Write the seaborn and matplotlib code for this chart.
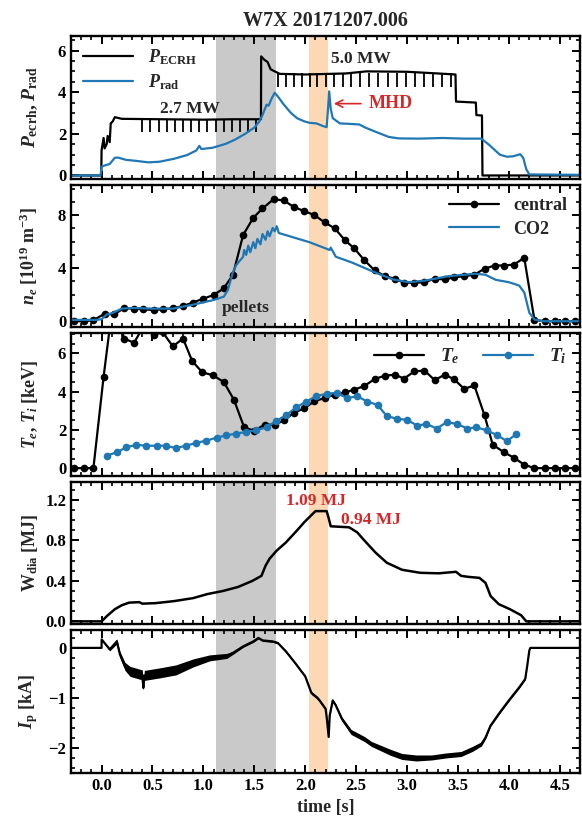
import numpy as np
import matplotlib
matplotlib.use("Agg")
import matplotlib.pyplot as plt
from matplotlib.ticker import MultipleLocator, FormatStrFormatter
import seaborn as sns

# ---- panel 1: heating and radiated power [MW]
ecrh_t = [-0.3, -0.003, 0.0, 0.02, 0.03, 0.05, 0.06, 0.08, 0.09, 0.11, 0.13, 0.2, 0.6, 1.0, 1.3,
          1.565, 1.567, 1.60, 1.63, 1.66, 1.70, 1.75, 2.0, 2.4, 2.6, 3.0, 3.3, 3.475, 3.48, 3.675,
          3.68, 3.735, 3.74, 4.7]
ecrh_v = [0, 0, 1.2, 1.8, 1.3, 1.5, 1.9, 1.6, 2.5, 2.6, 2.8, 2.72, 2.7, 2.68, 2.7,
          2.7, 5.72, 5.55, 5.45, 5.1, 5.0, 4.88, 4.85, 4.9, 5.0, 4.98, 4.9, 4.85, 3.55, 3.5,
          2.9, 2.88, 0.0, 0.0]
# short modulation dips of the ECRH trace
notch_lo_t = [0.40, 0.48, 0.56, 0.64, 0.72, 0.80, 0.88, 0.96, 1.04, 1.12, 1.20, 1.28, 1.36, 1.44, 1.52]
notch_lo_rng = [2.07, 2.7]
notch_hi_t = [1.73, 1.81, 1.89, 1.97, 2.05, 2.12, 2.20, 2.28, 2.37, 2.45, 2.54, 2.63, 2.71, 2.81,
              2.90, 2.99, 3.08, 3.17, 3.25, 3.34, 3.43]
notch_hi_rng = [4.25, 4.9]

prad_t = [-0.3, -0.01, 0.0, 0.03, 0.08, 0.13, 0.16, 0.24, 0.34, 0.46, 0.57, 0.71, 0.84, 0.93, 0.96,
          0.98, 1.09, 1.22, 1.31, 1.41, 1.50, 1.55, 1.58, 1.62, 1.64, 1.67, 1.70, 1.73, 1.79, 1.86,
          1.92, 1.99, 2.04, 2.11, 2.17, 2.21, 2.225, 2.235, 2.25, 2.27, 2.34, 2.43, 2.53, 2.59, 2.69,
          2.82, 2.92, 3.12, 3.35, 3.55, 3.73, 3.81, 3.91, 3.98, 4.04, 4.11, 4.14, 4.17, 4.20, 4.7]
prad_v = [0, 0, 0.42, 0.48, 0.55, 0.85, 0.86, 0.75, 0.7, 0.63, 0.66, 0.8, 0.98, 1.2, 1.42,
          1.27, 1.33, 1.52, 1.72, 2.0, 2.3, 2.6, 2.9, 3.4, 3.35, 3.7, 3.97, 3.8, 3.4, 3.0,
          2.75, 2.6, 2.53, 2.5, 2.38, 2.32, 3.3, 4.04, 3.2, 2.75, 2.5, 2.48, 2.45, 2.3, 2.1,
          1.85, 1.78, 1.77, 1.8, 1.77, 1.77, 1.45, 1.0, 0.9, 0.92, 1.02, 0.85, 0.3, 0.05, 0.03]

# ---- panel 2: density [1e19 m^-3]
ne_t = [-0.27, -0.17, -0.08, 0.03, 0.12, 0.22, 0.32, 0.41, 0.51, 0.60, 0.70, 0.80, 0.90, 1.00, 1.10,
        1.20, 1.29, 1.39, 1.49, 1.58, 1.69, 1.79, 1.89, 1.99, 2.09, 2.19, 2.29, 2.39, 2.48, 2.58,
        2.68, 2.78, 2.88, 2.97, 3.07, 3.17, 3.27, 3.37, 3.46, 3.56, 3.66, 3.76, 3.86, 3.95, 4.05,
        4.15, 4.25, 4.35, 4.45, 4.55, 4.65]
ne_v = [0, 0, 0.08, 0.56, 0.51, 0.97, 0.95, 0.9, 0.84, 0.9, 0.97, 1.15, 1.41, 1.71, 1.97,
        2.48, 3.5, 6.5, 7.8, 8.5, 9.2, 9.1, 8.6, 8.3, 8.0, 7.45, 7.0, 6.1, 5.5, 4.6,
        3.84, 3.4, 3.2, 2.9, 2.9, 2.94, 3.2, 3.15, 3.3, 3.4, 3.5, 3.96, 4.2, 4.2, 4.27,
        4.78, 0.1, 0, 0, 0, 0]
co2_t = [-0.3, -0.05, 0.0, 0.05, 0.1, 0.2, 0.3, 0.5, 0.7, 0.9, 1.1, 1.2, 1.24, 1.26, 1.29,
         1.32, 1.35, 1.39, 1.40, 1.42, 1.44, 1.46, 1.49, 1.51, 1.53, 1.56, 1.58, 1.61, 1.63, 1.65,
         1.68, 1.70, 1.72, 1.74, 2.04, 2.24, 2.25, 2.30, 2.46, 2.69, 2.86, 3.02, 3.18, 3.41, 3.67,
         3.77, 3.87, 4.00, 4.10, 4.15, 4.20, 4.25, 4.33, 4.7]
co2_v = [0.1, 0.1, 0.15, 0.5, 0.6, 0.95, 1.0, 0.95, 0.95, 1.25, 1.6, 1.85, 2.35, 2.9, 3.7,
         4.2, 4.5, 4.85, 5.37, 5.0, 5.7, 5.2, 5.96, 5.5, 6.2, 5.8, 6.57, 6.14, 6.78, 6.4,
         7.03, 6.78, 7.16, 6.65, 5.96, 5.37, 5.55, 4.86, 4.42, 3.66, 3.15, 2.94, 3.07, 3.4, 3.58,
         3.5, 3.12, 2.94, 2.69, 2.17, 0.64, 0.13, 0.0, 0.0]

# ---- panel 3: temperatures [keV]
te_t = [-0.27, -0.17, -0.08, 0.02, 0.12, 0.22, 0.32, 0.41, 0.51, 0.60, 0.70, 0.80, 0.89, 0.99, 1.09,
        1.20, 1.30, 1.40, 1.50, 1.60, 1.70, 1.79, 1.89, 1.99, 2.09, 2.19, 2.29, 2.39, 2.48, 2.58,
        2.68, 2.78, 2.88, 2.97, 3.07, 3.17, 3.27, 3.37, 3.46, 3.56, 3.66, 3.76, 3.84, 3.95, 4.05,
        4.15, 4.25, 4.35, 4.45, 4.55, 4.65]
te_v = [0, 0, 0, 4.77, 9.0, 6.77, 6.55, 7.4, 6.95, 7.1, 6.36, 6.77, 5.59, 5.0, 4.86,
        4.5, 3.57, 2.13, 1.95, 2.27, 2.27, 2.49, 2.9, 3.12, 3.5, 3.66, 3.84, 3.96, 4.1, 4.29,
        4.65, 4.83, 4.88, 4.68, 5.05, 5.1, 4.6, 4.88, 4.65, 4.14, 4.32, 2.76, 1.23, 0.83, 0.54,
        0.18, 0, 0, 0, 0, 0]
ti_t = [0.05, 0.15, 0.24, 0.34, 0.44, 0.54, 0.63, 0.73, 0.83, 0.93, 1.03, 1.13, 1.22, 1.32, 1.42,
        1.52, 1.62, 1.71, 1.81, 1.91, 2.01, 2.11, 2.21, 2.31, 2.41, 2.51, 2.61, 2.71, 2.80, 2.90,
        3.00, 3.10, 3.19, 3.29, 3.39, 3.49, 3.59, 3.68, 3.78, 3.88, 3.98, 4.07]
ti_v = [0.65, 0.83, 1.08, 1.22, 1.17, 1.17, 1.17, 1.05, 1.17, 1.32, 1.44, 1.59, 1.71, 1.8, 1.89,
        1.98, 2.13, 2.45, 2.76, 3.17, 3.48, 3.76, 3.89, 3.93, 3.66, 3.75, 3.48, 3.3, 2.72, 2.58,
        2.52, 2.22, 2.31, 2.07, 2.4, 2.31, 2.07, 2.13, 1.98, 1.73, 1.41, 1.77]

# ---- panel 4: diamagnetic energy [MJ]
w_t = [-0.3, 0.0, 0.05, 0.13, 0.2, 0.27, 0.37, 0.40, 0.53, 0.71, 0.9, 1.04, 1.19, 1.34, 1.48,
       1.57, 1.61, 1.65, 1.72, 1.81, 1.92, 1.99, 2.07, 2.10, 2.14, 2.21, 2.23, 2.25, 2.43, 2.51,
       2.58, 2.69, 2.80, 2.95, 3.13, 3.31, 3.48, 3.53, 3.60, 3.71, 3.77, 3.82, 3.90, 4.01, 4.12,
       4.17, 4.7]
w_v = [0, 0, 0.05, 0.12, 0.16, 0.185, 0.19, 0.175, 0.18, 0.2, 0.23, 0.27, 0.3, 0.34, 0.4,
       0.45, 0.55, 0.62, 0.7, 0.78, 0.9, 0.98, 1.06, 1.09, 1.09, 1.09, 1.02, 0.94, 0.93, 0.88,
       0.8, 0.68, 0.58, 0.51, 0.48, 0.475, 0.49, 0.45, 0.44, 0.43, 0.38, 0.25, 0.17, 0.12, 0.06,
       0.0, 0.0]

# ---- panel 5: plasma current [kA], with half width of the noisy trace
ip_t = [-0.3, 0.0, 0.001, 0.08, 0.15, 0.18, 0.23, 0.28, 0.40, 0.41, 0.42, 0.57, 0.73, 0.90, 1.06,
        1.23, 1.29, 1.39, 1.49, 1.54, 1.58, 1.68, 1.73, 1.81, 1.90, 2.00, 2.06, 2.12, 2.14, 2.20,
        2.21, 2.23, 2.24, 2.27, 2.30, 2.36, 2.45, 2.58, 2.65, 2.84, 2.95, 3.09, 3.24, 3.38, 3.53,
        3.64, 3.73, 3.77, 3.82, 3.91, 4.01, 4.10, 4.16, 4.18, 4.20, 4.21, 4.7]
ip_v = [0, 0, 0.17, -0.03, 0.13, -0.13, -0.37, -0.47, -0.54, -0.8, -0.55, -0.5, -0.44, -0.3, -0.2,
        -0.16, -0.1, 0.03, 0.13, 0.2, 0.15, 0.13, 0.1, -0.07, -0.3, -0.57, -0.9, -1.0, -1.05, -1.22,
        -1.38, -1.78, -1.35, -1.05, -1.15, -1.42, -1.68, -1.82, -1.92, -2.09, -2.17, -2.2, -2.19, -2.15, -2.12,
        -2.02, -1.92, -1.79, -1.55, -1.29, -1.02, -0.79, -0.62, -0.35, -0.05, 0, 0]
ip_w = [0, 0, 0, 0.03, 0.05, 0.06, 0.08, 0.1, 0.1, 0.05, 0.1, 0.1, 0.1, 0.08, 0.06,
        0.05, 0.03, 0.02, 0.02, 0.02, 0.02, 0.02, 0.02, 0.02, 0.02, 0.02, 0.03, 0.03, 0.03, 0.03,
        0.02, 0.0, 0.02, 0.02, 0.03, 0.04, 0.05, 0.05, 0.05, 0.06, 0.06, 0.06, 0.05, 0.05, 0.05,
        0.05, 0.04, 0.03, 0.02, 0.02, 0.02, 0.02, 0.02, 0.0, 0.0, 0, 0]

pellet_span = (1.12, 1.71)
mhd_span = (2.04, 2.22)

blue = "#1f77b4"
red = "#d62728"

sns.set_style("ticks")
plt.rcParams.update({
    "font.family": ["Liberation Serif", "DejaVu Serif"],
    "font.weight": "bold",
    "font.size": 12,
    "axes.labelweight": "bold",
    "axes.titleweight": "bold",
    "mathtext.fontset": "custom",
    "mathtext.rm": "Liberation Serif:bold",
    "mathtext.it": "Liberation Serif:italic:bold",
    "mathtext.bf": "Liberation Serif:bold",
    "axes.linewidth": 1.7,
    "axes.edgecolor": "black",
    "xtick.direction": "in", "ytick.direction": "in",
    "xtick.top": True, "ytick.right": True,
    "xtick.major.size": 6, "ytick.major.size": 6,
    "xtick.minor.size": 3, "ytick.minor.size": 3,
    "xtick.major.width": 1.4, "ytick.major.width": 1.4,
    "xtick.minor.width": 1.2, "ytick.minor.width": 1.2,
    "xtick.labelsize": 12, "ytick.labelsize": 12,
    "xtick.color": "black", "ytick.color": "black",
})

fig, axes = plt.subplots(5, 1, figsize=(5.82, 8.27), dpi=100, sharex=True,
                         gridspec_kw=dict(hspace=0.042))
fig.subplots_adjust(left=0.122, right=0.997, top=0.9565, bottom=0.0653)

for ax in axes:
    ax.axvspan(*pellet_span, color="#c9c9c9", lw=0, zorder=0)
    ax.axvspan(*mhd_span, color="#fdd8b5", lw=0, zorder=0)

# panel 1
ax = axes[0]
sns.lineplot(x=ecrh_t, y=ecrh_v, ax=ax, color="black", lw=1.6, estimator=None, sort=False,
             label=r"$P_{\rm ECRH}$")
ax.vlines(notch_lo_t, *notch_lo_rng, color="black", lw=1.3)
ax.vlines(notch_hi_t, *notch_hi_rng, color="black", lw=1.3)
sns.lineplot(x=prad_t, y=prad_v, ax=ax, color=blue, lw=1.6, estimator=None, sort=False,
             label=r"$P_{\rm rad}$")
ax.legend(loc="upper left", frameon=False, fontsize=13, handlelength=2.8,
          borderaxespad=0.25, labelspacing=0.25)
ax.text(0.87, 3.2, "2.7 MW", ha="center", va="center", fontsize=12.5, fontweight="bold")
ax.text(2.55, 5.6, "5.0 MW", ha="center", va="center", fontsize=12.5, fontweight="bold")
ax.annotate("MHD", xy=(2.28, 3.45), xytext=(2.62, 3.45), color=red, fontsize=13,
            fontweight="bold", ha="left", va="center",
            arrowprops=dict(arrowstyle="->", color=red, lw=1.2, shrinkA=3, shrinkB=0))
ax.set_ylim(-0.15, 6.7)
ax.set_yticks([0, 2, 4, 6])
ax.yaxis.set_minor_locator(MultipleLocator(0.5))
ax.set_ylabel(r"$P_{\rm ecrh}$, $P_{\rm rad}$", fontsize=14)
ax.set_title("W7X 20171207.006", fontsize=14.5, fontweight="bold", pad=7)

# panel 2
ax = axes[1]
sns.lineplot(x=ne_t, y=ne_v, ax=ax, color="black", lw=1.6, marker="o", markersize=5.5,
             markeredgewidth=0, estimator=None, sort=False, label="central")
sns.lineplot(x=co2_t, y=co2_v, ax=ax, color=blue, lw=1.6, estimator=None, sort=False, label="CO2")
ax.legend(loc="upper right", frameon=False, fontsize=13, handlelength=2.8,
          borderaxespad=0.3, labelspacing=0.35)
ax.text(1.42, 1.0, "pellets", ha="center", va="center", fontsize=12.5, fontweight="bold")
ax.set_ylim(-0.45, 10.3)
ax.set_yticks([0, 4, 8])
ax.yaxis.set_minor_locator(MultipleLocator(1))
ax.set_ylabel(r"$n_e$ [10$^{19}$ m$^{-3}$]", fontsize=13)

# panel 3
ax = axes[2]
sns.lineplot(x=te_t, y=te_v, ax=ax, color="black", lw=1.6, marker="o", markersize=5.5,
             markeredgewidth=0, estimator=None, sort=False, label=r"$T_e$")
sns.lineplot(x=ti_t, y=ti_v, ax=ax, color=blue, lw=1.6, marker="o", markersize=5.5,
             markeredgewidth=0, estimator=None, sort=False, label=r"$T_i$")
ax.legend(loc="upper right", ncol=2, frameon=False, fontsize=14, handlelength=2.6,
          columnspacing=1.2, borderaxespad=0.3)
ax.set_ylim(-0.4, 7.05)
ax.set_yticks([0, 2, 4, 6])
ax.yaxis.set_minor_locator(MultipleLocator(0.5))
ax.set_ylabel(r"$T_e$, $T_i$ [keV]", fontsize=13)

# panel 4
ax = axes[3]
sns.lineplot(x=w_t, y=w_v, ax=ax, color="black", lw=1.8, estimator=None, sort=False)
ax.text(2.1, 1.19, "1.09 MJ", color=red, ha="center", va="center", fontsize=12.5, fontweight="bold")
ax.text(2.64, 1.0, "0.94 MJ", color=red, ha="center", va="center", fontsize=12.5, fontweight="bold")
ax.set_ylim(-0.03, 1.38)
ax.set_yticks([0.0, 0.4, 0.8, 1.2])
ax.yaxis.set_major_formatter(FormatStrFormatter("%.1f"))
ax.yaxis.set_minor_locator(MultipleLocator(0.1))
ax.set_ylabel(r"W$_{\rm dia}$ [MJ]", fontsize=13)

# panel 5
ax = axes[4]
ip_lo = np.array(ip_v) - np.array(ip_w)
ip_hi = np.array(ip_v) + np.array(ip_w)
ax.fill_between(ip_t, ip_lo, ip_hi, color="black", lw=0)
sns.lineplot(x=ip_t, y=ip_v, ax=ax, color="black", lw=1.6, estimator=None, sort=False)
ax.set_ylim(-2.5, 0.35)
ax.set_yticks([0, -1, -2])
ax.yaxis.set_minor_locator(MultipleLocator(0.2))
ax.set_ylabel(r"$I_{\rm p}$ [kA]", fontsize=13)

ax.set_xlim(-0.3, 4.7)
ax.xaxis.set_major_locator(MultipleLocator(0.5))
ax.xaxis.set_minor_locator(MultipleLocator(0.1))
ax.xaxis.set_major_formatter(FormatStrFormatter("%.1f"))
ax.set_xlabel("time [s]", fontsize=13)

for a in axes:
    a.tick_params(which="both", top=True, right=True, direction="in")
fig.align_ylabels(axes)

fig.savefig("out.png", dpi=100)
